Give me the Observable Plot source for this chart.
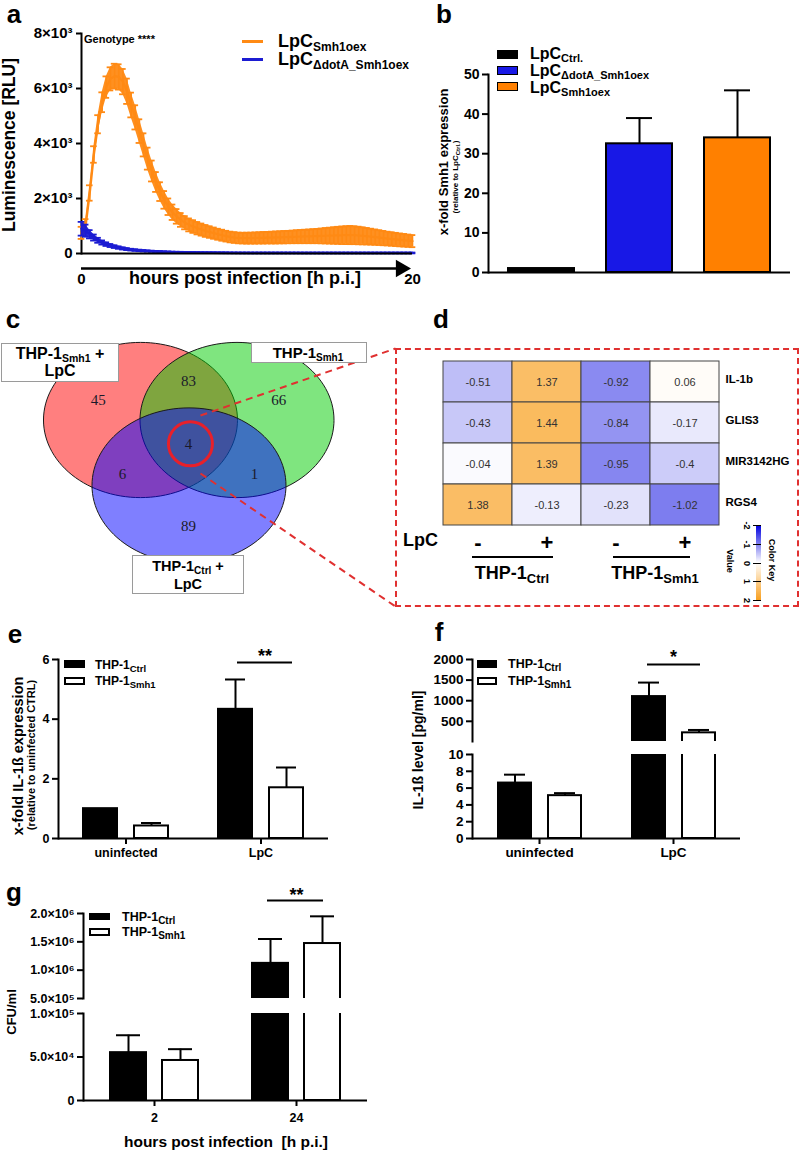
<!DOCTYPE html>
<html>
<head>
<meta charset="utf-8">
<script src="https://cdn.jsdelivr.net/npm/d3@7"></script>
<script src="https://cdn.jsdelivr.net/npm/@observablehq/plot@0.6"></script>
<style>
html,body{margin:0;padding:0;background:#fff;}
#root{position:relative;width:800px;height:1151px;overflow:hidden;background:#fff;font-family:"Liberation Sans",Arial,sans-serif;font-weight:bold;color:#000;}
.t{position:absolute;white-space:nowrap;line-height:1;}
.t sub{vertical-align:-0.3em;line-height:0;}
.letter{line-height:0.75;}
#root > svg{position:absolute;}
#root svg [aria-label="frame"], #root svg [aria-label="frame"] *{stroke-width:2px;}
#root svg [aria-label$="-axis tick"], #root svg [aria-label$="-axis tick"] *{stroke-width:2px;}
</style>
</head>
<body>
<div id="root"></div>
<script>
// ================= DATA =================
// Panel a: luminescence time course (mean ± SD), sampled every 0.25 h
const hours = [0,0.25,0.5,0.75,1,1.25,1.5,1.75,2,2.25,2.5,2.75,3,3.25,3.5,3.75,4,4.25,4.5,4.75,5,5.25,5.5,5.75,6,6.25,6.5,6.75,7,7.25,7.5,7.75,8,8.25,8.5,8.75,9,9.25,9.5,9.75,10,10.25,10.5,10.75,11,11.25,11.5,11.75,12,12.25,12.5,12.75,13,13.25,13.5,13.75,14,14.25,14.5,14.75,15,15.25,15.5,15.75,16,16.25,16.5,16.75,17,17.25,17.5,17.75,18,18.25,18.5,18.75,19,19.25,19.5,19.75,20];
const smh1oexMean = [750,1000,2200,3600,4700,5500,6050,6350,
  6450,6420,6250,5900,5400,4950,4450,3950,
  3450,3000,2600,2250,1950,1700,1500,1350,
  1220,1120,1040,980,920,870,820,780,
  740,700,665,630,600,580,565,560,558,
  560,563,567,571,575,579,583,588,593,598,604,610,
  615,620,625,630,635,640,645,650,655,660,664,667,670,
  665,655,642,628,612,595,578,560,543,527,511,495,480,465,450];
const smh1oexSD = [220,250,280,300,330,360,390,420,
  450,460,460,460,450,440,430,420,
  400,380,360,340,320,300,280,265,
  250,240,235,230,225,220,215,210,
  205,200,200,195,195,195,195,195,200,
  200,205,205,210,210,215,220,220,225,225,230,235,
  240,245,250,255,260,270,280,290,300,310,320,325,330,
  325,320,310,300,290,280,270,260,250,245,240,235,230,225,220];
const dotAMean = [900,830,700,580,480,400,340,290,
  250,215,185,160,140,125,112,100,
  90,82,75,68,62,57,53,49,
  46,43,40,38,36,34,32,30,
  29,28,27,26,25,24,23,22,22,
  21,21,21,21,21,21,21,21,21,21,21,21,
  20,20,20,20,20,20,20,20,20,20,20,20,20,
  20,20,20,20,20,20,20,20,20,20,20,20,20,20,20];
const dotASD = [250,220,150,110,90,75,65,55,
  50,45,40,36,32,30,28,26,
  24,22,20,19,18,17,16,15,
  15,15,15,15,15,15,15,15,
  15,15,15,15,15,15,15,15,15,
  15,15,15,15,15,15,15,15,15,15,15,15,
  15,15,15,15,15,15,15,15,15,15,15,15,15,
  15,15,15,15,15,15,15,15,15,15,15,15,15,15,15];
const lumTicks = [0, 2000, 4000, 6000, 8000];
const hourTicks = [0, 20];

// Panel b: x-fold Smh1 expression
const strainsB = ["LpC Ctrl.", "LpC ΔdotA_Smh1oex", "LpC Smh1oex"];
const smh1Expr = [1, 32.5, 34];
const smh1ExprErr = [0, 6.5, 12];
const exprTicks = [0, 10, 20, 30, 40, 50];

// Panel c: Venn diagram
const vennSets = ["THP-1Smh1 + LpC", "THP-1Smh1", "THP-1Ctrl + LpC"];
const vennRegions = ["A", "A∩B", "B", "A∩B∩C", "A∩C", "B∩C", "C"];
const vennCounts = [45, 83, 66, 4, 6, 1, 89];

// Panel d: heatmap of z-scores
const genes = ["IL-1b", "GLIS3", "MIR3142HG", "RGS4"];
const conditions = ["Ctrl −", "Ctrl +", "Smh1 −", "Smh1 +"];
const lpcSigns = ["-", "+", "-", "+"];
const zScores = [
  [-0.51, 1.37, -0.92, 0.06],
  [-0.43, 1.44, -0.84, -0.17],
  [-0.04, 1.39, -0.95, -0.4],
  [1.38, -0.13, -0.23, -1.02]
];
const keyTicks = [-2, -1, 0, 1, 2];

// Panel e: x-fold IL-1β expression
const infection = ["uninfected", "LpC"];
const cellLines = ["THP-1 Ctrl", "THP-1 Smh1"];
const il1bExpr = [[1.0, 0.42], [4.33, 1.7]];
const il1bExprErr = [[0, 0.1], [1.0, 0.68]];
const exprETicks = [0, 2, 4, 6];
const sigE = [{group: "LpC", y: 5.9, label: "**"}];

// Panel f: IL-1β level (broken axis)
const il1bLevel = [[6.6, 5.1], [1100, 220]];
const il1bLevelErr = [[1.0, 0.3], [340, 70]];
const levelLowTicks = [0, 2, 4, 6, 8, 10];
const levelHighTicks = [500, 1000, 1500, 2000];
const sigF = [{group: "LpC", y: 1880, label: "*"}];

// Panel g: CFU/ml (broken axis)
const hpi = ["2", "24"];
const cfu = [[5.5e4, 4.6e4], [1.12e6, 1.47e6]];
const cfuErr = [[2.0e4, 1.3e4], [4.3e5, 4.8e5]];
const cfuLowTicks = [0, 5e4, 1e5];
const cfuHighTicks = [5e5, 1e6, 1.5e6, 2e6];
const sigG = [{group: "24", y: 2.23e6, label: "**"}];

// ================= HELPERS =================
const FONT = '"Liberation Sans", Arial, Helvetica, sans-serif';
const root = document.getElementById("root");
function place(node, left, top) {
  node.style.position = "absolute";
  node.style.left = left + "px";
  node.style.top = top + "px";
  root.appendChild(node);
  return node;
}
function txt(html, x, y, size, o = {}) {
  const d = document.createElement("div");
  d.className = "t" + (o.cls ? " " + o.cls : "");
  d.innerHTML = html;
  d.style.fontSize = size + "px";
  if (o.weight) d.style.fontWeight = o.weight;
  if (o.family) d.style.fontFamily = o.family;
  if (o.color) d.style.color = o.color;
  const ax = (o.anchor === "middle" || o.rotate) ? "-50%" : o.anchor === "end" ? "-100%" : "0";
  d.style.left = x + "px";
  d.style.top = y + "px";
  d.style.transform = `translate(${ax},-50%)` + (o.rotate ? ` rotate(${o.rotate}deg)` : "");
  root.appendChild(d);
  return d;
}
function box(x, y, w, h, style) {
  const d = document.createElement("div");
  Object.assign(d.style, {position: "absolute", left: x + "px", top: y + "px", width: w + "px", height: h + "px", boxSizing: "border-box"}, style);
  root.appendChild(d);
  return d;
}
const letter = (s, x, y) => txt(s, x, y, 26, {anchor: "middle", cls: "letter"});
const sb = (s, size) => `<sub style="font-size:${size}px">${s}</sub>`;
const baseStyle = (size) => ({fontFamily: FONT, fontSize: size + "px", fontWeight: "bold", color: "#000", background: "transparent", overflow: "visible"});
const SUP = "⁰¹²³⁴⁵⁶⁷⁸⁹";
function sci(d, digits = 1) {
  if (d === 0) return "0";
  const e = Math.floor(Math.log10(d) + 1e-9);
  const m = d / Math.pow(10, e);
  return m.toFixed(digits) + "×10" + String(e).split("").map(c => SUP[+c]).join("");
}

// ================= PANEL a =================
const ORANGE = "#ff8a14", BLUE_A = "#1c1cd2";
const aOr = hours.map((t, i) => ({t, v: smh1oexMean[i], sd: smh1oexSD[i]}));
const aBl = hours.map((t, i) => ({t, v: dotAMean[i], sd: dotASD[i]}));
const capHalf = 0.2;
function errSeries(data, color) {
  return [
    Plot.areaY(data, {x: "t", y1: d => d.v - d.sd, y2: d => d.v + d.sd, fill: color, fillOpacity: 0.95}),
    Plot.ruleX(data, {x: "t", y1: d => d.v - d.sd, y2: d => d.v + d.sd, stroke: color, strokeWidth: 1.6}),
    Plot.ruleY(data, {y: d => d.v + d.sd, x1: d => d.t - capHalf, x2: d => d.t + capHalf, stroke: color, strokeWidth: 1.8}),
    Plot.ruleY(data, {y: d => d.v - d.sd, x1: d => d.t - capHalf, x2: d => d.t + capHalf, stroke: color, strokeWidth: 1.8}),
    Plot.line(data, {x: "t", y: "v", stroke: color, strokeWidth: 2.2})
  ];
}
const arrowEnd = 19.3;
const pa = Plot.plot({
  width: 420, height: 300, marginLeft: 81, marginRight: 8, marginTop: 33, marginBottom: 47,
  style: baseStyle(15),
  x: {domain: [0, 20], ticks: hourTicks, tickSize: 0, tickPadding: 20, tickFormat: d => String(d), label: null},
  y: {domain: [0, 8000], ticks: lumTicks, tickFormat: d => d === 0 ? "0" : `${d / 1000}×10³`, tickSize: 5, label: null, line: true},
  marks: [
    ...errSeries(aOr, ORANGE),
    ...errSeries(aBl, BLUE_A),
    Plot.ruleY([0], {strokeWidth: 2}),
    Plot.ruleY([0], {x1: hourTicks[0], x2: arrowEnd, dy: 15, strokeWidth: 2.4}),
    Plot.dot([arrowEnd], {x: d => d, y: 0, dy: 15, symbol: "triangle", rotate: 90, r: 6.5, fill: "black", stroke: "none"})
  ]
});
place(pa, 0, 0);
letter("a", 14, 15);
txt("Genotype ****", 84, 39, 11);
txt("Luminescence [RLU]", 10, 145, 17.5, {rotate: -90});
txt("hours post infection [h p.i.]", 245, 278, 18, {anchor: "middle"});
box(242, 39.5, 21, 3, {background: ORANGE});
box(242, 57.5, 21, 3, {background: BLUE_A});
txt("LpC" + sb("Smh1oex", 12), 278, 41, 18);
txt("LpC" + sb("ΔdotA_Smh1oex", 12), 278, 59, 18);

// ================= PANEL b =================
const colorsB = ["#000000", "#1818e6", "#ff8000"];
const bData = strainsB.map((s, i) => ({strain: s, mean: smh1Expr[i], err: smh1ExprErr[i]}));
const pb = Plot.plot({
  width: 380, height: 300, marginLeft: 68, marginRight: 10, marginTop: 74, marginBottom: 28,
  style: baseStyle(14),
  x: {domain: strainsB, paddingInner: 0.323, paddingOuter: 0.19, axis: null},
  y: {domain: [0, 50], ticks: exprTicks, tickFormat: d => String(d), tickSize: 6, label: null, line: true},
  color: {domain: strainsB, range: colorsB},
  marks: [
    Plot.barY(bData, {x: "strain", y: "mean", fill: "strain", stroke: "black", strokeWidth: 2}),
    Plot.ruleX(bData.filter(d => d.err > 0), {x: "strain", y1: "mean", y2: d => d.mean + d.err, strokeWidth: 2}),
    Plot.tickY(bData.filter(d => d.err > 0), {x: "strain", y: d => d.mean + d.err, strokeWidth: 2, inset: 20}),
    Plot.ruleY([0], {strokeWidth: 2})
  ]
});
place(pb, 420, 0);
letter("b", 444, 15);
box(497, 50, 21, 9, {background: colorsB[0], border: "1.5px solid #000"});
box(497, 66, 21, 9, {background: colorsB[1], border: "1.5px solid #000"});
box(497, 82, 21, 9, {background: colorsB[2], border: "1.5px solid #000"});
txt("LpC" + sb("Ctrl.", 11), 530, 54, 16);
txt("LpC" + sb("ΔdotA_Smh1oex", 11), 530, 71, 16);
txt("LpC" + sb("Smh1oex", 11), 530, 87.5, 16);
txt("x-fold Smh1 expression", 443, 162, 13, {rotate: -90});
txt("(relative to LpC" + sb("Ctrl.", 6) + ")", 456, 177, 8, {rotate: -90});

// ================= PANEL c (Venn) =================
const U = 97, OX = 188, OY = 452, VL = 0, VT = 330, VW = 400, VH = 280;
const vennFill = ["#ff0000", "#00cc00", "#0000ff"];
const vennCX = [-0.495, 0.5, 0.005], vennCY = [0.335, 0.335, -0.34];
const vennRX = 1, vennRY = 0.8;
const vennLabelX = [-0.93, 0, 0.93, 0, -0.68, 0.68, 0];
const vennLabelY = [0.54, 0.74, 0.54, 0.09, -0.22, -0.22, -0.76];
const angles = d3.range(0, 360, 3).map(a => a * Math.PI / 180);
const ellipses = vennSets.map((s, i) => angles.map(a => ({set: s, x: vennCX[i] + vennRX * Math.cos(a), y: vennCY[i] + vennRY * Math.sin(a)})));
const vennText = vennRegions.map((r, i) => ({region: r, n: vennCounts[i], x: vennLabelX[i], y: vennLabelY[i]}));
const highlight = vennText.filter(d => d.region === "A∩B∩C");
const toU = (px, py) => ({x: (px - OX) / U, y: (OY - py) / U});
const connectors = [
  {a: toU(200, 415), b: toU(395, 348)},
  {a: toU(200, 473), b: toU(395, 606)}
];
const pc = Plot.plot({
  width: VW, height: VH, margin: 0,
  style: {fontFamily: FONT, fontWeight: "normal", background: "transparent", overflow: "visible"},
  x: {domain: [(VL - OX) / U, (VL + VW - OX) / U], axis: null},
  y: {domain: [(OY - VT - VH) / U, (OY - VT) / U], axis: null},
  marks: [
    ...ellipses.map((pts, i) => Plot.line(pts, {x: "x", y: "y", fill: vennFill[i], fillOpacity: 0.5, stroke: "#1a1a1a", strokeWidth: 1, curve: "linear-closed"})),
    Plot.text(vennText, {x: "x", y: "y", text: d => String(d.n), fontFamily: '"Liberation Serif", "Times New Roman", serif', fontWeight: "normal", fontSize: 15, fill: "#1a1a2a"}),
    Plot.dot(highlight, {x: d => d.x + 0.02, y: "y", r: 22, stroke: "#e8202a", strokeWidth: 3, fill: "none"}),
    Plot.link(connectors, {x1: d => d.a.x, y1: d => d.a.y, x2: d => d.b.x, y2: d => d.b.y, stroke: "#e03030", strokeWidth: 2, strokeDasharray: "7,5"})
  ]
});
place(pc, VL, VT);
letter("c", 13, 320);
box(1, 343, 118, 39, {background: "#fff", border: "1px solid #9a9a9a"});
txt("THP-1" + sb("Smh1", 10.5) + " +", 60, 354, 16, {anchor: "middle"});
txt("LpC", 60, 371, 16, {anchor: "middle"});
box(251, 342, 116, 21, {background: "#fff", border: "1px solid #9a9a9a"});
txt("THP-1" + sb("Smh1", 10), 308, 352, 15, {anchor: "middle"});
box(132, 555, 112, 39, {background: "#fff", border: "1px solid #9a9a9a"});
txt("THP-1" + sb("Ctrl", 10) + " +", 188, 566, 14.5, {anchor: "middle"});
txt("LpC", 188, 584, 14.5, {anchor: "middle"});

// ================= PANEL d (heatmap) =================
box(395, 348, 404, 259, {border: "2px dashed #e03030"});
const hm = genes.flatMap((g, i) => conditions.map((c, j) => ({gene: g, cond: c, z: zScores[i][j]})));
const colorHm = {type: "linear", domain: [-2, 0, 2], range: ["#0000e0", "#ffffff", "#f8a020"]};
const pd = Plot.plot({
  width: 398, height: 206, marginLeft: 42, marginRight: 78, marginTop: 10, marginBottom: 30,
  style: baseStyle(12),
  x: {domain: conditions, padding: 0},
  y: {domain: genes, padding: 0},
  color: colorHm,
  marks: [
    Plot.cell(hm, {x: "cond", y: "gene", fill: "z", stroke: "#444", strokeWidth: 1}),
    Plot.text(hm, {x: "cond", y: "gene", text: d => String(d.z), fontSize: 11, fontWeight: "normal", fill: "#333"}),
    Plot.axisX({tickSize: 0, tickPadding: 8, fontSize: 22, tickFormat: d => lpcSigns[conditions.indexOf(d)], label: null}),
    Plot.axisY({anchor: "right", tickSize: 0, tickPadding: 5, fontSize: 11.5, dy: -3, label: null})
  ]
});
place(pd, 400, 350);
letter("d", 441, 320);
txt("LpC", 403, 540, 18);
box(472, 555.5, 81, 2.5, {background: "#000"});
box(613, 555.5, 77, 2.5, {background: "#000"});
txt("THP-1" + sb("Ctrl", 13), 512, 573, 18, {anchor: "middle"});
txt("THP-1" + sb("Smh1", 13), 655, 573, 18, {anchor: "middle"});
const keyLegend = Plot.legend({
  color: colorHm, width: 79, height: 24, marginTop: 2, marginBottom: 17, marginLeft: 2, marginRight: 2,
  ticks: keyTicks, tickSize: 3, tickFormat: d => String(d), label: null,
  style: {fontFamily: FONT, fontSize: "9px", fontWeight: "bold", background: "transparent", overflow: "visible"}
});
const keyWrap = document.createElement("div");
Object.assign(keyWrap.style, {position: "absolute", left: "763px", top: "523px", width: "79px", height: "24px", transformOrigin: "0 0", transform: "rotate(90deg)"});
keyWrap.appendChild(keyLegend);
root.appendChild(keyWrap);
txt("Value", 729, 561, 9, {rotate: 90});
txt("Color Key", 771, 560, 9, {rotate: 90});

// ================= PANELS e, f, g helpers =================
const cellColor = {domain: cellLines, range: ["#000000", "#ffffff"]};
function barMarks(data, {inset, clipIt = false, upper = false, lowMax = 0}) {
  const shown = upper ? data.filter(d => d.mean > lowMax) : data;
  const withErr = shown.filter(d => d.err > 0);
  const marks = [
    Plot.barY(shown, upper
      ? {fx: "group", x: "line", y1: d => -d.mean, y2: "mean", fill: "line", stroke: "black", strokeWidth: 2, clip: clipIt}
      : {fx: "group", x: "line", y: "mean", fill: "line", stroke: "black", strokeWidth: 2, clip: clipIt}),
    Plot.ruleX(withErr, {fx: "group", x: "line", y1: "mean", y2: d => d.mean + d.err, strokeWidth: 2, clip: clipIt}),
    Plot.tickY(withErr, {fx: "group", x: "line", y: d => d.mean + d.err, strokeWidth: 2, inset, clip: clipIt})
  ];
  // keep every facet populated so the axis stays on the left facet
  if (upper) marks.push(Plot.ruleY(data, {fx: "group", y: lowMax, strokeOpacity: 0}));
  return marks;
}
function sigMarks(sig, insetLeft, insetRight, dx, dy) {
  return [
    Plot.ruleY(sig, {fx: "group", y: "y", insetLeft, insetRight, strokeWidth: 2}),
    Plot.text(sig, {fx: "group", y: "y", text: "label", frameAnchor: "middle", dx, dy, fontSize: 18})
  ];
}

// ================= PANEL e =================
const eData = infection.flatMap((g, i) => cellLines.map((c, j) => ({group: g, line: c, mean: il1bExpr[i][j], err: il1bExprErr[i][j]})));
const pe = Plot.plot({
  width: 340, height: 238, marginLeft: 58, marginRight: 12, marginTop: 19, marginBottom: 40,
  style: baseStyle(12.5),
  fx: {domain: infection, padding: 0, axis: "bottom", tickSize: 6, tickPadding: 4, label: null},
  x: {domain: cellLines, paddingInner: 0.333, paddingOuter: 0.49, axis: null},
  y: {domain: [0, 6], ticks: exprETicks, tickFormat: d => String(d), tickSize: 6, label: null, line: true},
  color: cellColor,
  marks: [
    ...barMarks(eData, {inset: 7}),
    Plot.ruleY([0], {strokeWidth: 2}),
    ...sigMarks(sigE, 44, 36, 4, -6)
  ]
});
place(pe, 0, 640);
letter("e", 15, 635);
box(64, 660, 21, 8, {background: "#000"});
box(64, 677, 21, 8, {background: "#fff", border: "2px solid #000"});
txt("THP-1" + sb("Ctrl", 9.5), 95, 664.5, 12);
txt("THP-1" + sb("Smh1", 9.5), 95, 680.5, 12);
txt("x-fold IL-1ß expression", 18, 756, 14.5, {rotate: -90});
txt("(relative to uninfected CTRL)", 31, 755, 11, {rotate: -90});

// ================= PANEL f =================
const fData = infection.flatMap((g, i) => cellLines.map((c, j) => ({group: g, line: c, mean: il1bLevel[i][j], err: il1bLevelErr[i][j]})));
const fLowMax = levelLowTicks[levelLowTicks.length - 1];
const fx2 = (axis) => ({domain: infection, padding: 0, axis, tickSize: 6, tickPadding: 3, label: null});
const xBandF = {domain: cellLines, paddingInner: 0.34, paddingOuter: 0.51, axis: null};
const pfUp = Plot.plot({
  width: 360, height: 101, marginLeft: 72, marginRight: 20, marginTop: 19, marginBottom: 0,
  style: baseStyle(13.5),
  fx: fx2(null), x: xBandF,
  y: {domain: [fLowMax, 2000], ticks: levelHighTicks, tickFormat: d => String(d), tickSize: 6, label: null, line: true},
  color: cellColor,
  marks: [
    ...barMarks(fData, {inset: 6, clipIt: true, upper: true, lowMax: fLowMax}),
    ...sigMarks(sigF, 41, 40, 0, -7)
  ]
});
place(pfUp, 400, 640);
const pfLo = Plot.plot({
  width: 360, height: 134, marginLeft: 72, marginRight: 20, marginTop: 10, marginBottom: 40,
  style: baseStyle(13.5),
  fx: fx2("bottom"), x: xBandF,
  y: {domain: [0, fLowMax], ticks: levelLowTicks, tickFormat: d => String(d), tickSize: 6, label: null, line: true},
  color: cellColor,
  marks: [
    ...barMarks(fData, {inset: 6, clipIt: true}),
    Plot.ruleY([0], {strokeWidth: 2})
  ]
});
place(pfLo, 400, 744);
letter("f", 439, 633);
box(477, 660, 20, 8, {background: "#000"});
box(477, 677, 20, 8, {background: "#fff", border: "2px solid #000"});
txt("THP-1" + sb("Ctrl", 10), 508, 664, 12.5);
txt("THP-1" + sb("Smh1", 10), 508, 681, 12.5);
txt("IL-1ß level [pg/ml]", 418, 750, 14, {rotate: -90});

// ================= PANEL g =================
const gData = hpi.flatMap((g, i) => cellLines.map((c, j) => ({group: g, line: c, mean: cfu[i][j], err: cfuErr[i][j]})));
const gLowMax = cfuLowTicks[cfuLowTicks.length - 1];
const fxG = (axis) => ({domain: hpi, padding: 0, axis, tickSize: 6, tickPadding: 7, label: null});
const xBandG = {domain: cellLines, paddingInner: 0.31, paddingOuter: 0.52, axis: null};
const pgUp = Plot.plot({
  width: 380, height: 103, marginLeft: 83, marginRight: 13, marginTop: 18, marginBottom: 0,
  style: baseStyle(12.5),
  fx: fxG(null), x: xBandG,
  y: {domain: [5e5, 2e6], ticks: cfuHighTicks, tickFormat: d => sci(d), tickSize: 6, label: null, line: true},
  color: cellColor,
  marks: [
    ...barMarks(gData, {inset: 6, clipIt: true, upper: true, lowMax: gLowMax}),
    ...sigMarks(sigG, 42, 44, 0, -5)
  ]
});
place(pgUp, 0, 895);
const pgLo = Plot.plot({
  width: 380, height: 142, marginLeft: 83, marginRight: 13, marginTop: 10, marginBottom: 45,
  style: baseStyle(12.5),
  fx: fxG("bottom"), x: xBandG,
  y: {domain: [0, gLowMax], ticks: cfuLowTicks, tickFormat: d => sci(d), tickSize: 6, label: null, line: true},
  color: cellColor,
  marks: [
    ...barMarks(gData, {inset: 6, clipIt: true}),
    Plot.ruleY([0], {strokeWidth: 2})
  ]
});
place(pgLo, 0, 1003);
letter("g", 14, 893);
box(89, 913, 21, 7, {background: "#000"});
box(89, 928, 21, 8, {background: "#fff", border: "2px solid #000"});
txt("THP-1" + sb("Ctrl", 10), 122, 917, 12.5);
txt("THP-1" + sb("Smh1", 10), 122, 931.5, 12.5);
txt("CFU/ml", 11, 1012, 13, {rotate: -90});
txt("hours post infection&nbsp;&nbsp;[h p.i.]", 226, 1142, 15.5, {anchor: "middle"});
</script>
</body>
</html>
